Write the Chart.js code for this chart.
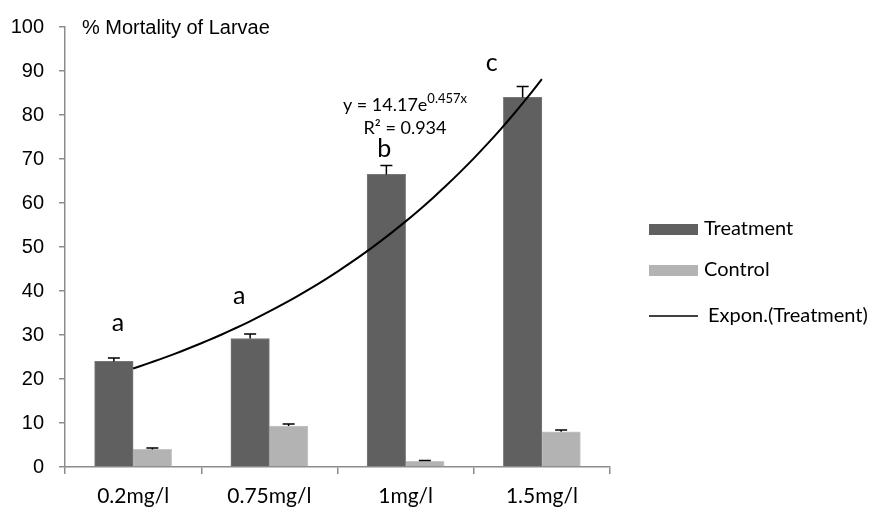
<!DOCTYPE html>
<html>
<head>
<meta charset="utf-8">
<script src="https://cdn.jsdelivr.net/npm/chart.js@4.4.1/dist/chart.umd.min.js"></script>
<style>
  html, body { margin: 0; padding: 0; background: #fff; }
  #wrap { width: 883px; height: 514px; }
</style>
</head>
<body>
<div id="wrap"><canvas id="mortalityChart" width="883" height="514"></canvas></div>
<script>
const doses = ["0.2mg/l", "0.75mg/l", "1mg/l", "1.5mg/l"];
const doseIndex = [1, 2, 3, 4];
const treatment = [24, 29.2, 66.5, 84];
const control = [4, 9.3, 1.3, 8];
const treatmentErr = [0.8, 1, 2, 2.5];
const controlErr = [0.3, 0.5, 0.2, 0.4];
const letters = ["a", "a", "b", "c"];
const yTicks = [0, 10, 20, 30, 40, 50, 60, 70, 80, 90, 100];
const xTicks = [0.5, 1, 1.5, 2, 2.5, 3, 3.5, 4, 4.5];

// exponential trendline shown on the chart: y = 14.17e^(0.457x)
const trendA = 14.17;
const trendB = 0.457;
const trendX = [];
for (let x = 1; x <= 4.0001; x += 0.1) trendX.push(+x.toFixed(2));
const trendPoints = trendX.map(x => ({ x: x, y: trendA * Math.exp(trendB * x) }));

const sansFont = "'Liberation Sans', Arial, sans-serif";
const caliFont = "Lato, 'Open Sans', sans-serif";

// error bar caps drawn above each bar
const errorBars = {
    id: "errorBars",
    afterDatasetsDraw(chart) {
        const ctx = chart.ctx;
        const yScale = chart.scales.y;
        const vals = [treatment, control];
        const errs = [treatmentErr, controlErr];
        ctx.save();
        ctx.strokeStyle = "#000";
        ctx.lineWidth = 1.5;
        [0, 1].forEach(di => {
            const meta = chart.getDatasetMeta(di);
            meta.data.forEach((bar, i) => {
                const top = yScale.getPixelForValue(vals[di][i] + errs[di][i]);
                ctx.beginPath();
                ctx.moveTo(bar.x, bar.y);
                ctx.lineTo(bar.x, top);
                ctx.moveTo(bar.x - 6, top);
                ctx.lineTo(bar.x + 6, top);
                ctx.stroke();
            });
        });
        ctx.restore();
    }
};

// letters, equation, axis title and legend
const extras = {
    id: "extras",
    afterDraw(chart) {
        const ctx = chart.ctx;
        const yScale = chart.scales.y;
        const meta = chart.getDatasetMeta(0);
        ctx.save();
        ctx.fillStyle = "#000";
        ctx.textAlign = "center";
        ctx.textBaseline = "alphabetic";

        // significance letters
        const letterDx = [4, -11, -2, -31];
        const letterDy = [27, 30, 9, 15];
        ctx.font = "25px " + caliFont;
        meta.data.forEach((bar, i) => {
            const top = yScale.getPixelForValue(treatment[i] + treatmentErr[i]);
            ctx.fillText(letters[i], bar.x + letterDx[i], top - letterDy[i]);
        });

        // equation
        ctx.font = "18px " + caliFont;
        const eq = "y = 14.17e";
        const sup = "0.457x";
        ctx.textAlign = "left";
        const w1 = ctx.measureText(eq).width;
        ctx.font = "13px " + caliFont;
        const w2 = ctx.measureText(sup).width;
        const eqX = 405 - (w1 + w2) / 2;
        ctx.font = "18px " + caliFont;
        ctx.fillText(eq, eqX, 111);
        ctx.font = "13px " + caliFont;
        ctx.fillText(sup, eqX + w1, 103);
        ctx.font = "18px " + caliFont;
        ctx.textAlign = "center";
        ctx.fillText("R² = 0.934", 405, 134);

        // axis title
        ctx.textAlign = "left";
        ctx.font = "20px " + sansFont;
        ctx.fillText("% Mortality of Larvae", 82, 34);

        // legend
        ctx.font = "20px " + caliFont;
        ctx.textBaseline = "middle";
        ctx.fillStyle = chart.data.datasets[0].backgroundColor;
        ctx.fillRect(649, 224, 49, 11);
        ctx.fillStyle = "#000";
        ctx.fillText("Treatment", 704, 229);
        ctx.fillStyle = chart.data.datasets[1].backgroundColor;
        ctx.fillRect(649, 265, 49, 11);
        ctx.fillStyle = "#000";
        ctx.fillText("Control", 704, 270);
        ctx.strokeStyle = "#000";
        ctx.lineWidth = 1.5;
        ctx.beginPath();
        ctx.moveTo(649, 316);
        ctx.lineTo(698, 316);
        ctx.stroke();
        ctx.fillText("Expon.(Treatment)", 708, 316);
        ctx.restore();
    }
};

const ctx = document.getElementById("mortalityChart").getContext("2d");
new Chart(ctx, {
    data: {
        datasets: [
            {
                type: "bar",
                label: "Treatment",
                data: treatment.map((v, i) => ({ x: doseIndex[i], y: v })),
                backgroundColor: "#606060",
                borderColor: "#787878",
                borderWidth: 1,
                barThickness: 38.5,
                order: 2
            },
            {
                type: "bar",
                label: "Control",
                data: control.map((v, i) => ({ x: doseIndex[i], y: v })),
                backgroundColor: "#b3b3b3",
                borderColor: "#c6c6c6",
                borderWidth: 1,
                barThickness: 38.5,
                order: 2
            },
            {
                type: "line",
                label: "Expon.(Treatment)",
                data: trendPoints,
                borderColor: "#000",
                borderWidth: 2,
                pointRadius: 0,
                tension: 0.3,
                fill: false,
                order: 1
            }
        ]
    },
    options: {
        responsive: false,
        animation: false,
        layout: {
            padding: { left: 0, right: 273, top: 27, bottom: 0 }
        },
        plugins: {
            legend: { display: false },
            tooltip: { enabled: false }
        },
        scales: {
            x: {
                type: "linear",
                min: 0.5,
                max: 4.5,
                offset: false,
                afterBuildTicks(scale) {
                    scale.ticks = xTicks.map(v => ({ value: v }));
                },
                grid: {
                    offset: false,
                    drawOnChartArea: false,
                    tickLength: 7,
                    color: c => (c.tick && Number.isInteger(c.tick.value)) ? "rgba(0,0,0,0)" : "#8c8c8c",
                    lineWidth: 1.5
                },
                border: { color: "#8c8c8c", width: 1.5 },
                ticks: {
                    color: "#000",
                    padding: 10,
                    autoSkip: false,
                    maxRotation: 0,
                    font: { family: caliFont, size: 21 },
                    callback: v => Number.isInteger(v) ? doses[doseIndex.indexOf(v)] : ""
                },
                afterFit(scale) { scale.height = 47; }
            },
            y: {
                min: 0,
                max: 100,
                afterBuildTicks(scale) {
                    scale.ticks = yTicks.map(v => ({ value: v }));
                },
                grid: {
                    drawOnChartArea: false,
                    tickLength: 6,
                    color: "#8c8c8c",
                    lineWidth: 1.5
                },
                border: { color: "#8c8c8c", width: 1.5 },
                ticks: {
                    color: "#000",
                    padding: 15,
                    font: { family: sansFont, size: 20 }
                },
                afterFit(scale) { scale.width = 65; }
            }
        }
    },
    plugins: [errorBars, extras]
});
</script>
</body>
</html>
